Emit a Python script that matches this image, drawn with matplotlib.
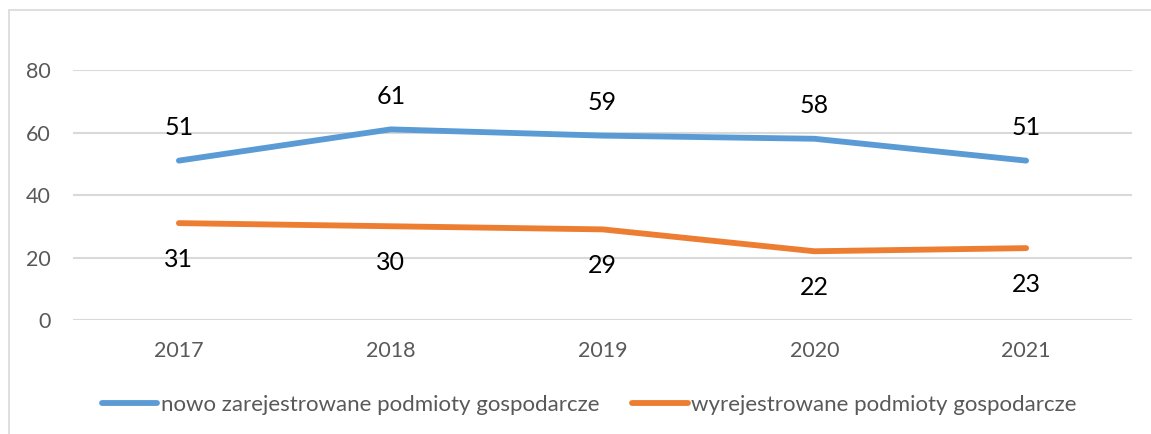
import matplotlib
matplotlib.use("Agg")
import matplotlib.pyplot as plt
from matplotlib.patches import Rectangle

years = ["2017", "2018", "2019", "2020", "2021"]
registered = [51, 61, 59, 58, 51]
deregistered = [31, 30, 29, 22, 23]
label_reg = "nowo zarejestrowane podmioty gospodarcze"
label_dereg = "wyrejestrowane podmioty gospodarcze"

plt.rcParams['font.family'] = ['Lato', 'DejaVu Sans']

fig = plt.figure(figsize=(11.51, 4.34), dpi=100)
ax = fig.add_axes([73 / 1151, 1 - 320 / 434, (1132 - 73) / 1151, 250 / 434])

x = range(len(years))
blue = '#5B9BD5'
orange = '#ED7D31'
ax.plot(x, registered, color=blue, lw=4.2, solid_capstyle='round', label=label_reg, zorder=3)
ax.plot(x, deregistered, color=orange, lw=4.2, solid_capstyle='round', label=label_dereg, zorder=3)

for i, v in enumerate(registered):
    ax.annotate(str(v), (i, v), xytext=(0, 24), textcoords='offset points',
                ha='center', va='center', fontsize=18, color='black', annotation_clip=False)
for i, v in enumerate(deregistered):
    ax.annotate(str(v), (i, v), xytext=(0, -26), textcoords='offset points',
                ha='center', va='center', fontsize=18, color='black', annotation_clip=False)

ax.set_xlim(-0.5, 4.5)
ax.set_ylim(0, 80)
ax.set_yticks([0, 20, 40, 60, 80])
ax.set_xticks(list(x))
ax.set_xticklabels(years)
ax.grid(axis='y', color='#D9D9D9', lw=1.5)
ax.set_axisbelow(True)
for s in ax.spines.values():
    s.set_visible(False)
ax.tick_params(length=0, labelsize=15.5, labelcolor='#595959')
ax.tick_params(axis='y', pad=16)
ax.tick_params(axis='x', pad=15)

fig.legend(loc='center', bbox_to_anchor=(0.512, 1 - 405 / 434), ncol=2, frameon=False,
           fontsize=16, labelcolor='#595959', handlelength=2.5, handletextpad=0.15,
           columnspacing=1.5)

fig.patches.append(Rectangle((9 / 1151, -0.1), 1.2, 1.1 - 10 / 434, transform=fig.transFigure,
                             fill=False, edgecolor='#D9D9D9', lw=1.2))

fig.savefig('out.png', dpi=100)
